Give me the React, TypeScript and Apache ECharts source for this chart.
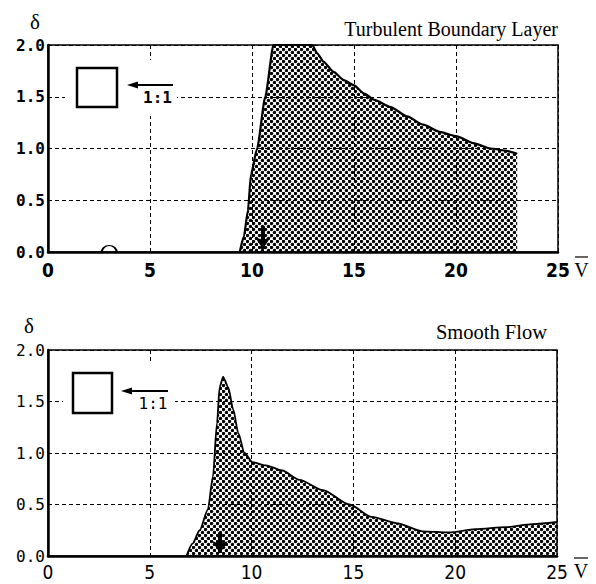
import React, { useEffect, useRef } from 'react';
import * as echarts from 'echarts';

// ---- data ----
const xMin = 0;
const xMax = 25;
const xInterval = 5;
const yMin = 0;
const yMax = 2;
const yInterval = 0.5;

const topTitle = 'Turbulent Boundary Layer';
const bottomTitle = 'Smooth Flow';
const ratioLabel = '1:1';

const turbulentV = [9.4, 9.6, 9.8, 9.95, 10.25, 10.65, 11.05, 12.95, 13.2, 13.5, 14.0, 14.5, 15.0, 15.5, 16.0, 16.8, 17.6, 18.4, 19.2, 20.0, 20.9, 21.7, 22.4, 23.0];
const turbulentDelta = [0, 0.15, 0.4, 0.75, 1.0, 1.5, 2.0, 2.0, 1.92, 1.84, 1.74, 1.66, 1.61, 1.53, 1.47, 1.4, 1.31, 1.23, 1.16, 1.12, 1.05, 1.0, 0.98, 0.95];

const smoothV = [6.8, 7.1, 7.45, 7.85, 8.1, 8.3, 8.43, 8.6, 8.85, 9.1, 9.35, 9.65, 10.05, 10.7, 11.5, 12.35, 13.5, 14.8, 15.9, 17.1, 18.4, 19.7, 21.0, 22.5, 23.8, 25.0];
const smoothDelta = [0, 0.12, 0.25, 0.45, 0.77, 1.29, 1.64, 1.74, 1.64, 1.42, 1.19, 1.0, 0.91, 0.88, 0.83, 0.74, 0.64, 0.5, 0.38, 0.32, 0.24, 0.23, 0.26, 0.28, 0.31, 0.33];

const topArrow = { v: 10.53, from: 0.25, to: 0.03 };
const bottomArrow = { v: 8.45, from: 0.23, to: 0.03 };
const topCircleMark = { v: 3, delta: 0 };

function makePattern() {
  const c = document.createElement('canvas');
  c.width = 6;
  c.height = 6;
  const ctx = c.getContext('2d')!;
  ctx.fillStyle = '#000';
  [[1.5, 1.5], [4.5, 4.5]].forEach(([x, y]) => {
    ctx.beginPath();
    ctx.arc(x, y, 1.7, 0, Math.PI * 2);
    ctx.fill();
  });
  return { image: c.toDataURL(), repeat: 'repeat', imageWidth: 6, imageHeight: 6 };
}

const xLabelFont = '"Liberation Sans Narrow", "DejaVu Sans Condensed", "Liberation Sans", sans-serif';
const yLabelFont = '"DejaVu Sans Mono", monospace';
const serif = '"Liberation Serif", "DejaVu Serif", serif';

function txt(text: string, x: number, y: number, fontSize: number, fontFamily: string, align: string, fontWeight = 'normal') {
  return {
    type: 'text',
    x,
    y,
    z: 100,
    style: {
      text,
      fontSize,
      fontFamily,
      fontWeight,
      fill: '#000',
      align,
      verticalAlign: 'middle',
      textAlign: align,
      textVerticalAlign: 'middle',
    },
  };
}

function legendGroup(mask: number[], sq: number[], arrowY: number, tipX: number, endX: number, labelX: number, labelY: number, bold: boolean) {
  return [
    { type: 'rect', z: 90, shape: { x: mask[0], y: mask[1], width: mask[2], height: mask[3] }, style: { fill: '#fff' } },
    { type: 'rect', z: 100, shape: { x: sq[0], y: sq[1], width: sq[2], height: sq[3] }, style: { fill: '#fff', stroke: '#000', lineWidth: 2.5 } },
    { type: 'line', z: 100, shape: { x1: tipX + 6, y1: arrowY, x2: endX, y2: arrowY }, style: { stroke: '#000', lineWidth: 2 } },
    { type: 'polygon', z: 100, shape: { points: [[tipX, arrowY], [tipX + 11, arrowY - 3.5], [tipX + 11, arrowY + 3.5]] }, style: { fill: '#000' } },
    txt(ratioLabel, labelX, labelY, 16, yLabelFont, 'center', bold ? 'bold' : 'normal'),
  ];
}

export default function App() {
  const ref = useRef<HTMLDivElement>(null);
  useEffect(() => {
    if (!ref.current) return;
    const chart = echarts.init(ref.current, null, { renderer: 'svg' });
    const pattern = makePattern();

    const mkX = (gridIndex: number, bold: boolean, margin: number) => ({
      type: 'value',
      gridIndex,
      min: xMin,
      max: xMax,
      interval: xInterval,
      axisLine: { show: true, onZero: false, lineStyle: { color: '#000', width: 2.5 } },
      axisTick: { show: false },
      axisLabel: {
        show: true,
        showMinLabel: true,
        showMaxLabel: true,
        margin,
        color: '#000',
        fontSize: 19,
        fontFamily: xLabelFont,
        fontWeight: bold ? 'bold' : 'normal',
      },
      splitLine: { show: true, lineStyle: { color: '#000', width: 1, type: [4, 3] } },
    });
    const mkY = (gridIndex: number, bold: boolean) => ({
      type: 'value',
      gridIndex,
      min: yMin,
      max: yMax,
      interval: yInterval,
      axisLine: { show: true, lineStyle: { color: '#000', width: 2.5 } },
      axisTick: { show: false },
      axisLabel: {
        show: true,
        showMinLabel: true,
        showMaxLabel: true,
        margin: 3,
        color: '#000',
        fontSize: 16,
        fontFamily: yLabelFont,
        fontWeight: bold ? 'bold' : 'normal',
        formatter: (v: number) => v.toFixed(1),
      },
      splitLine: { show: true, lineStyle: { color: '#000', width: 1, type: [4, 3] } },
    });

    const arrowLine = (a: { v: number; from: number; to: number }) => ({
      silent: true,
      animation: false,
      label: { show: false },
      lineStyle: { color: '#000', width: 4, type: 'solid' },
      emphasis: { disabled: true },
      data: [[
        { coord: [a.v, a.from], symbol: 'none' },
        { coord: [a.v, a.to], symbol: 'arrow', symbolSize: 12 },
      ]],
    });

    chart.setOption({
      animation: false,
      backgroundColor: '#fff',
      grid: [
        { left: 48, top: 45, width: 510, height: 207, show: true, borderColor: '#000', borderWidth: 1.5, backgroundColor: 'transparent' },
        { left: 48, top: 350, width: 509, height: 206, show: true, borderColor: '#000', borderWidth: 1.5, backgroundColor: 'transparent' },
      ],
      xAxis: [mkX(0, true, 8), mkX(1, false, 6)],
      yAxis: [mkY(0, true), mkY(1, false)],
      series: [
        {
          type: 'line',
          xAxisIndex: 0,
          yAxisIndex: 0,
          data: turbulentV.map((v, i) => [v, turbulentDelta[i]]),
          showSymbol: false,
          smooth: 0.2,
          smoothMonotone: 'x',
          lineStyle: { color: '#000', width: 2.2 },
          areaStyle: { color: pattern, opacity: 1 },
          markLine: arrowLine(topArrow),
          markPoint: {
            silent: true,
            symbol: 'path://M0 10 A10 10 0 0 1 20 10',
            symbolSize: [15, 7],
            symbolOffset: [0, -3],
            itemStyle: { color: 'rgba(0,0,0,0)', borderColor: '#000', borderWidth: 1.5 },
            label: { show: false },
            data: [{ coord: [topCircleMark.v, topCircleMark.delta] }],
          },
        },
        {
          type: 'line',
          xAxisIndex: 1,
          yAxisIndex: 1,
          data: smoothV.map((v, i) => [v, smoothDelta[i]]),
          showSymbol: false,
          smooth: 0.25,
          smoothMonotone: 'x',
          lineStyle: { color: '#000', width: 1.8 },
          areaStyle: { color: pattern, opacity: 1 },
          markLine: arrowLine(bottomArrow),
        },
      ],
      graphic: [
        txt(topTitle, 558, 28.5, 20, serif, 'right'),
        txt(bottomTitle, 547, 332, 20.5, serif, 'right'),
        txt('δ', 35, 22, 21, serif, 'center'),
        txt('δ', 29, 325.5, 21, serif, 'center'),
        { type: 'line', z: 100, shape: { x1: 575, y1: 257, x2: 588, y2: 257 }, style: { stroke: '#000', lineWidth: 1.2 } },
        txt('V', 581.5, 270, 20, serif, 'center'),
        { type: 'line', z: 100, shape: { x1: 574, y1: 558, x2: 588, y2: 558 }, style: { stroke: '#000', lineWidth: 1.2 } },
        txt('V', 581, 571, 20, serif, 'center'),
        ...legendGroup([65, 60, 112, 56], [77, 68, 40, 39], 85, 127, 173, 157.5, 97, true),
        ...legendGroup([63, 364, 112, 56], [73, 373, 39, 40], 391, 121, 168, 153, 403, false),
      ],
    });
    return () => chart.dispose();
  }, []);
  return <div ref={ref} style={{ position: 'fixed', left: 0, top: 0, width: 596, height: 584 }} />;
}
